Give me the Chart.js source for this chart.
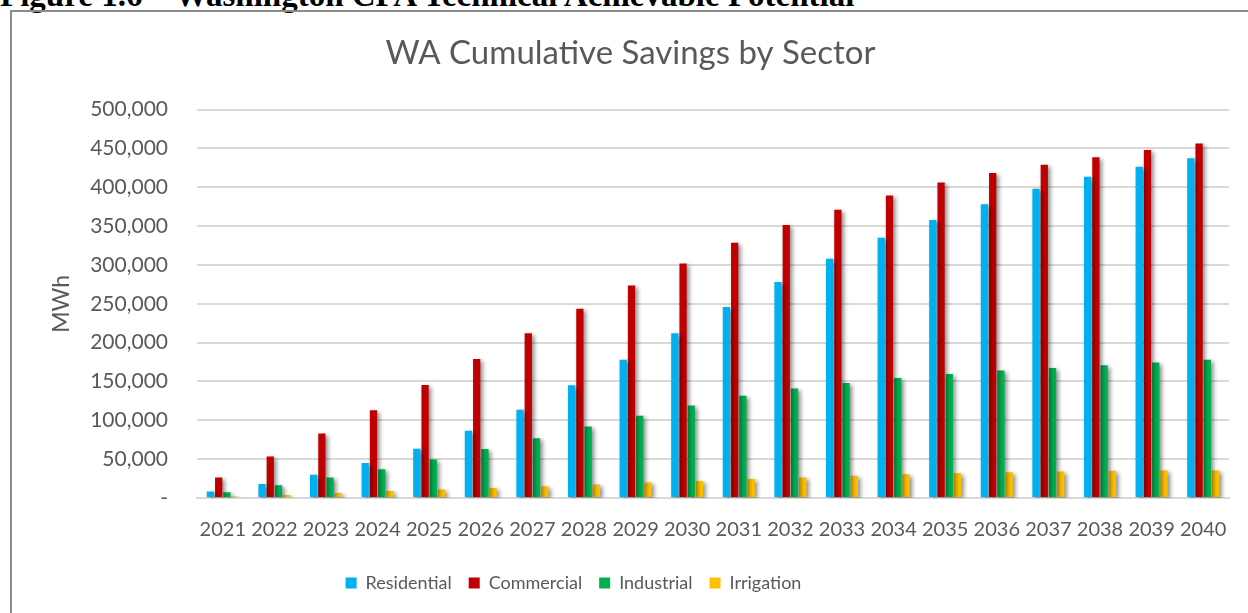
<!DOCTYPE html>
<html>
<head>
<meta charset="utf-8">
<script src="https://cdn.jsdelivr.net/npm/chart.js@4/dist/chart.umd.min.js"></script>
<style>
  html, body { margin: 0; padding: 0; background: #fff; width: 1248px; height: 613px; overflow: hidden; }
  #caption { position: absolute; left: 0; top: -21px; font: bold 33px/33px "Liberation Serif", serif; color: #000; white-space: nowrap; }
  #frame { position: absolute; left: 10px; top: 10px; width: 1260px; height: 640px; border: 2px solid #8c8c8c; }
  #wrap { position: absolute; left: 0; top: 0; width: 1248px; height: 613px; }
</style>
</head>
<body>
<div id="caption">Figure 1.6 – Washington CPA Technical Achievable Potential</div>
<div id="frame"></div>
<div id="wrap"><canvas id="savingsChart"></canvas></div>
<script>
const years = ['2021', '2022', '2023', '2024', '2025', '2026', '2027', '2028', '2029', '2030',
               '2031', '2032', '2033', '2034', '2035', '2036', '2037', '2038', '2039', '2040'];
const residential = [8500, 18000, 30000, 45000, 63500, 86500, 113500, 145000, 178000, 212000,
                     246000, 278000, 308000, 335000, 358000, 378000, 398000, 413500, 426500, 437500];
const commercial = [26500, 53500, 83000, 113000, 145500, 179000, 212000, 243500, 273500, 302000,
                    328500, 351500, 371000, 389500, 406000, 418500, 429000, 438500, 448000, 456500];
const industrial = [7500, 16500, 26500, 37000, 49500, 63000, 77000, 92000, 106000, 119000,
                    131500, 141000, 148000, 154500, 159500, 164000, 167500, 171000, 174500, 178000];
const irrigation = [2000, 4000, 6500, 9000, 11000, 13000, 15000, 17500, 20000, 22000,
                    24500, 26500, 28500, 30500, 32000, 33000, 34000, 35000, 35500, 35500];
const yTicks = [0, 50000, 100000, 150000, 200000, 250000, 300000, 350000, 400000, 450000, 500000];

const textColor = '#595959';
const fontFamily = 'Lato, "Open Sans", sans-serif';

// soft drop shadow behind the bars, like the office chart
const barShadow = {
    id: 'barShadow',
    beforeDatasetsDraw(chart) {
        const ctx = chart.ctx;
        ctx.save();
        ctx.shadowColor = 'rgba(0, 0, 0, 0.45)';
        ctx.shadowBlur = 4;
        ctx.shadowOffsetX = 2.5;
        ctx.shadowOffsetY = 2;
    },
    afterDatasetsDraw(chart) {
        chart.ctx.restore();
    }
};

// title is centred on the whole frame, legend a bit left of the plot centre
const blockShift = {
    id: 'blockShift',
    afterUpdate(chart) {
        if (chart.titleBlock) chart.titleBlock.left += 32;
        if (chart.legend) chart.legend.right -= 82;
    }
};

const ctx = document.getElementById('savingsChart').getContext('2d');

new Chart(ctx, {
    type: 'bar',
    data: {
        labels: years,
        datasets: [
            { label: 'Residential', data: residential, backgroundColor: '#00B0F0' },
            { label: 'Commercial', data: commercial, backgroundColor: '#C00000' },
            { label: 'Industrial', data: industrial, backgroundColor: '#00B050' },
            { label: 'Irrigation', data: irrigation, backgroundColor: '#FFC000' }
        ]
    },
    options: {
        responsive: true,
        maintainAspectRatio: false,
        animation: false,
        layout: { padding: { left: 0, right: 19, top: 0, bottom: 11 } },
        datasets: {
            bar: { categoryPercentage: 0.64, barPercentage: 0.88 }
        },
        plugins: {
            title: {
                display: true,
                text: 'WA Cumulative Savings by Sector',
                color: textColor,
                font: { family: fontFamily, size: 33, weight: 'normal' },
                padding: { top: 34, bottom: 36 }
            },
            legend: {
                position: 'bottom',
                labels: {
                    color: textColor,
                    font: { family: fontFamily, size: 18 },
                    boxWidth: 11,
                    boxHeight: 11,
                    padding: 17
                }
            },
            tooltip: { enabled: false }
        },
        scales: {
            x: {
                grid: { display: false },
                border: { color: '#d9d9d9', width: 2 },
                ticks: {
                    color: textColor,
                    font: { family: fontFamily, size: 20 },
                    maxRotation: 0,
                    autoSkip: false,
                    padding: 12
                },
                afterFit(scale) { scale.height = 59; }
            },
            y: {
                min: 0,
                max: 500000,
                border: { display: false },
                grid: { color: '#d9d9d9', lineWidth: 2, drawTicks: false },
                afterBuildTicks(scale) {
                    scale.ticks = yTicks.map(v => ({ value: v }));
                },
                ticks: {
                    color: textColor,
                    font: { family: fontFamily, size: 21 },
                    padding: 29,
                    callback: v => v === 0 ? '-' : v.toLocaleString('en-US')
                },
                title: {
                    display: true,
                    text: 'MWh',
                    color: textColor,
                    font: { family: fontFamily, size: 23 },
                    padding: { top: 48, bottom: 0 }
                },
                afterFit(scale) { scale.width = 197; }
            }
        }
    },
    plugins: [barShadow, blockShift]
});
</script>
</body>
</html>
